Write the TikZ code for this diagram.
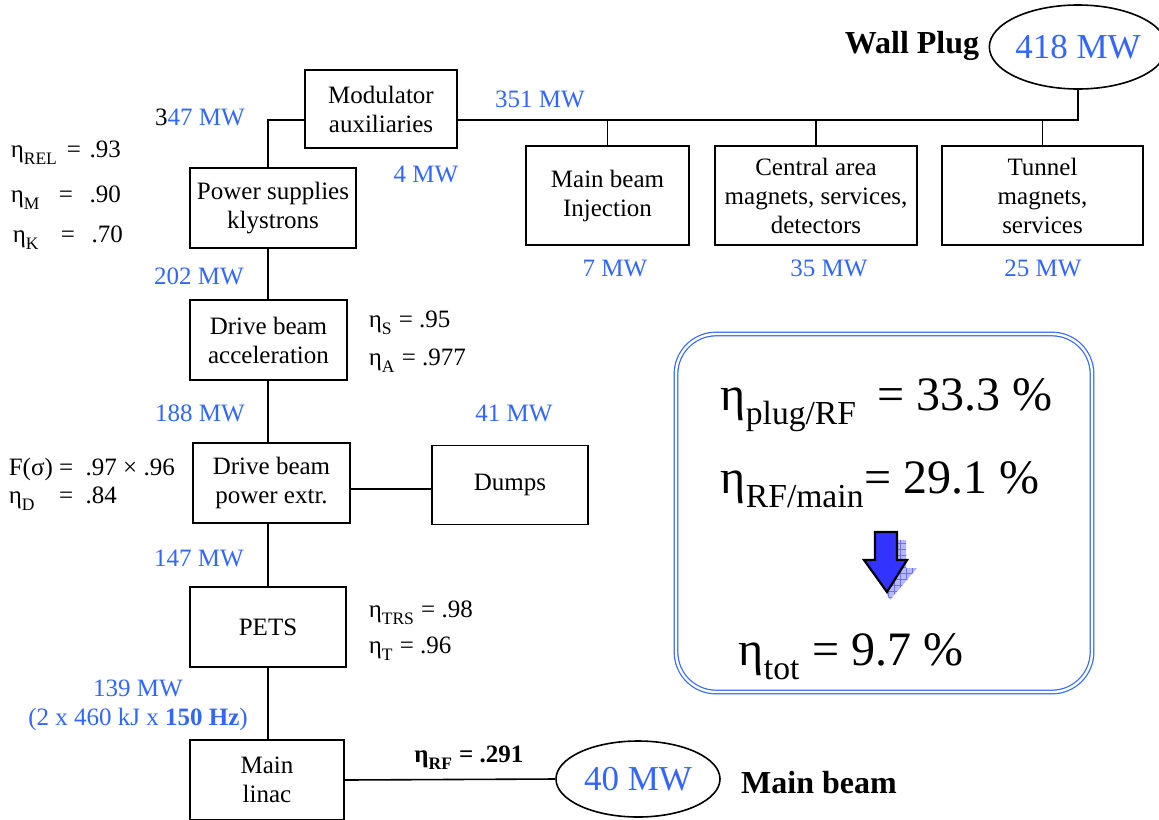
\documentclass[tikz,border=0pt]{standalone}
\usepackage{fontspec}
\setmainfont{Liberation Serif}
\usetikzlibrary{shapes.geometric, patterns}

\definecolor{mwblue}{RGB}{51,102,255}
\definecolor{arrowblue}{RGB}{51,51,255}
\newcommand{\etasub}[1]{η\raisebox{-0.3ex}{\textsubscript{#1}}}

\begin{document}
\begin{tikzpicture}[x=0.5pt, y=-0.5pt, line width=0.8pt,
    blk/.style={draw, align=center, inner sep=0pt, font=\fontsize{12.5}{14.5}\selectfont},
    mw/.style={text=mwblue, align=center, font=\fontsize{12.5}{14.5}\selectfont},
    eff/.style={anchor=base west, inner sep=0pt, font=\fontsize{12.5}{14.5}\selectfont},
    big/.style={anchor=base west, inner sep=0pt, font=\fontsize{24}{28}\selectfont},
    tag/.style={font=\fontsize{16}{18}\selectfont\bfseries},
    sink/.style={draw, ellipse, inner sep=0pt, text=mwblue, font=\fontsize{17.5}{20}\selectfont}]
  \useasboundingbox (0,0) rectangle (1159,819);

  % Wall plug
  \node[sink, minimum width=80pt, minimum height=42pt] (wall) at (1078,47) {418 MW};
  \node[tag] (walltag) at (912,46) {Wall Plug};

  % Modulator and other consumers
  \node[blk, minimum width=76pt, minimum height=39pt] (mod) at (381,109) {Modulator\\auxiliaries};
  \node[blk, minimum width=81.5pt, minimum height=49.5pt] (inj) at (607.5,195.5) {Main beam\\Injection};
  \node[blk, minimum width=101pt, minimum height=49.5pt] (cen) at (816,195.5) {Central area\\magnets, services,\\detectors};
  \node[blk, minimum width=100.5pt, minimum height=49.5pt] (tun) at (1042.5,195.5) {Tunnel\\magnets,\\services};

  % Drive beam chain
  \node[blk, minimum width=83pt, minimum height=40pt] (ps) at (273,208) {Power supplies\\klystrons};
  \node[blk, minimum width=78.5pt, minimum height=40pt] (dba) at (268.5,340) {Drive beam\\acceleration};
  \node[blk, minimum width=78.5pt, minimum height=40pt] (dbp) at (271.5,483) {Drive beam\\power extr.};
  \node[blk, minimum width=78pt, minimum height=39.5pt] (dumps) at (510,485) {Dumps};
  \node[blk, minimum width=78pt, minimum height=40pt] (pets) at (268,627) {PETS};
  \node[blk, minimum width=77pt, minimum height=40pt] (linac) at (267,780) {Main\\linac};

  % Main beam
  \node[sink, minimum width=82pt, minimum height=38pt] (beam) at (638,779) {40 MW};
  \node[tag] (beamtag) at (819,783) {Main beam};

  % Connectors
  \coordinate (bus) at (1080,120);
  \coordinate (trunk) at (268,120);
  \draw (wall.south) -- (wall.south |- bus) -- (mod.east |- bus);
  \foreach \b in {inj, cen, tun}
    \draw (\b.north) -- (\b.north |- bus);
  \draw (mod.west |- bus) -- (trunk) -- (trunk |- ps.north);
  \draw (trunk |- ps.south) -- (trunk |- dba.north);
  \draw (trunk |- dba.south) -- (trunk |- dbp.north);
  \draw (trunk |- dbp.south) -- (trunk |- pets.north);
  \draw (trunk |- pets.south) -- (trunk |- linac.north);
  \draw ([yshift=-3pt]dbp.east) -- ([yshift=-3pt]dbp.east -| dumps.west);
  \draw (linac.east) -- (beam.west) node[pos=0.59, above=1pt, font=\fontsize{12.5}{14.5}\selectfont\bfseries] (etarf) {\etasub{RF} = .291};

  % Power flow
  \node[mw] (p347) at (200,117) {{\color{black}3}47 MW};
  \node[mw] (p351) at (540,99) {351 MW};
  \node[mw] (p4) at (426,174) {4 MW};
  \node[mw] (p7) at (615,268) {7 MW};
  \node[mw] (p35) at (829,268) {35 MW};
  \node[mw] (p25) at (1043,268) {25 MW};
  \node[mw] (p202) at (199,276) {202 MW};
  \node[mw] (p188) at (200,413) {188 MW};
  \node[mw] (p41) at (514,413) {41 MW};
  \node[mw] (p147) at (199,558) {147 MW};
  \node[mw] (p139) at (138,705) {139 MW\\(2 x 460 kJ x \textbf{150 Hz})};

  % Efficiencies
  \node[eff] (erel) at (10,157) {\makebox[28pt][l]{\etasub{REL}}=\makebox[20pt][r]{.93}};
  \node[eff] (em) at (10,202) {\makebox[24pt][l]{\etasub{M}}=\makebox[24pt][r]{.90}};
  \node[eff] (ek) at (12,242) {\makebox[24pt][l]{\etasub{K}}=\makebox[24pt][r]{.70}};
  \node[eff] (es) at (368,327) {\etasub{S} = .95};
  \node[eff] (ea) at (368,365) {\etasub{A} = .977};
  \node[eff] (ef) at (8,475) {F(σ) = \ .97 × .96};
  \node[eff] (ed) at (8,503) {\rlap{\etasub{D}}\phantom{F(σ)} = \ .84};
  \node[eff] (etrs) at (368,617) {\etasub{TRS} = .98};
  \node[eff] (et) at (368,653) {\etasub{T} = .96};

  % Summary
  \node[draw=mwblue, double=white, double distance=1.2pt, line width=0.6pt, rounded corners=20pt,
        minimum width=208pt, minimum height=179pt] (summary) at (884,513) {};
  \node[big] (eplug) at (720,410) {\etasub{plug/RF} \,= 33.3 \%};
  \node[big] (emain) at (720,493) {\etasub{RF/main}= 29.1 \%};
  \node[big] (etot) at (738,665) {\etasub{tot} = 9.7 \%};

  % Down arrow with shadow
  \fill[arrowblue!35] (884,540) -- (906,540) -- (906,568) -- (917,568) -- (890,600) -- (873,568) -- (884,568) -- cycle;
  \fill[pattern=grid, pattern color=arrowblue!70] (884,540) -- (906,540) -- (906,568) -- (917,568) -- (890,600) -- (873,568) -- (884,568) -- cycle;
  \draw[fill=arrowblue, line width=1.1pt] (875,532) -- (897,532) -- (897,560) -- (907,560) -- (887,592) -- (864,560) -- (875,560) -- cycle;
\end{tikzpicture}
\end{document}
